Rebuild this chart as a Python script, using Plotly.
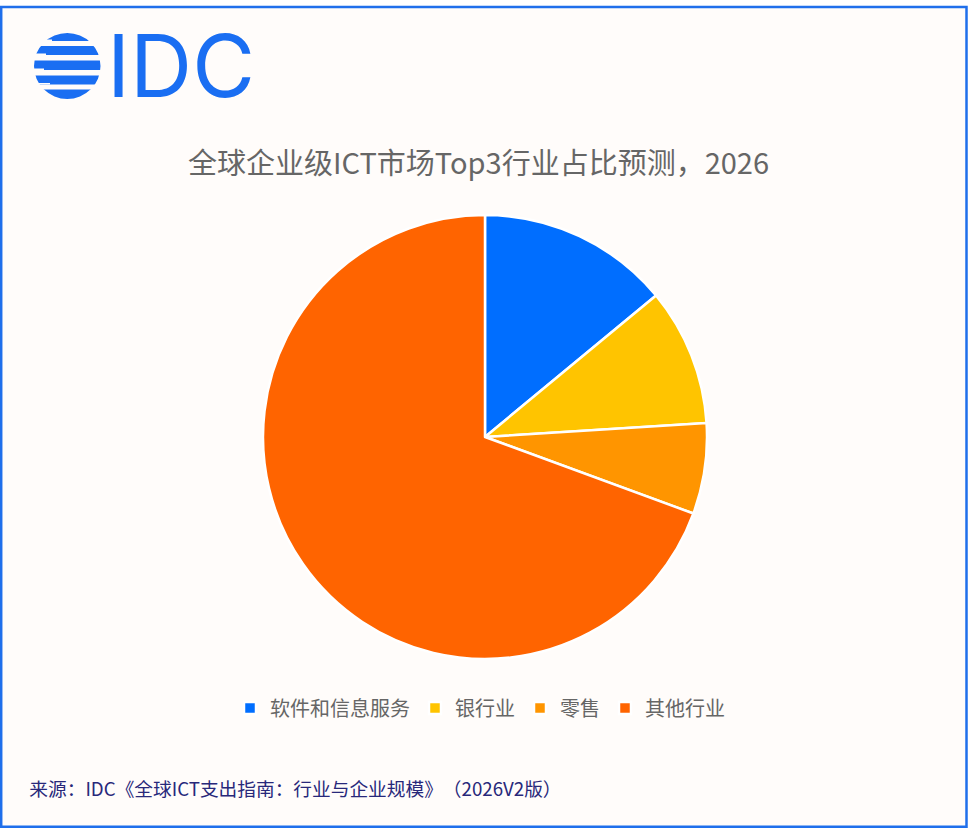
import plotly.graph_objects as go

# 数据
labels = ["软件和信息服务", "银行业", "零售", "其他行业"]
shares = [14.0, 10.0, 6.6, 69.4]
colors = ["#006EFF", "#FFC400", "#FF9500", "#FF6400"]

title_text = "全球企业级ICT市场Top3行业占比预测，2026"
source_text = "来源：IDC《全球ICT支出指南：行业与企业规模》（2026V2版）"

W, H = 968, 828
CJK = "Noto Sans CJK SC"
LOGO_BLUE = "#1A6EF2"
BG = "#FFFCFA"


def px(x):
    return x / W


def py(y):
    return 1 - y / H


fig = go.Figure()
fig.add_trace(go.Pie(
    labels=labels,
    values=shares,
    sort=False,
    direction="clockwise",
    rotation=0,
    marker=dict(colors=colors, line=dict(color="white", width=2.5)),
    textinfo="none",
    hoverinfo="label+percent",
    domain=dict(x=[px(263), px(707)], y=[py(659), py(215)]),
))

shapes = [
    # 外框
    dict(type="rect", xref="paper", yref="paper",
         x0=px(1.2), x1=px(966.5), y0=py(826.8), y1=py(7),
         fillcolor=BG, line=dict(color="#1F6FEB", width=2.5), layer="below"),
    # logo 圆
    dict(type="circle", xref="paper", yref="paper",
         x0=px(34), x1=px(100.5), y0=py(99), y1=py(33),
         fillcolor=LOGO_BLUE, line=dict(width=0), layer="below"),
]
# logo 白色条纹（带小台阶）
for y0, y1, xs in [(41, 46, 52), (55, 60.5, 46), (70, 75.5, 44), (84.5, 89.5, 50)]:
    shapes.append(dict(type="rect", xref="paper", yref="paper",
                       x0=px(30), x1=px(104), y0=py(y1), y1=py(y0),
                       fillcolor=BG, line=dict(width=0), layer="below"))
    shapes.append(dict(type="rect", xref="paper", yref="paper",
                       x0=px(30), x1=px(xs), y0=py(y0 - 1.5), y1=py(y0),
                       fillcolor=BG, line=dict(width=0), layer="below"))

annotations = [
    dict(text="IDC", x=px(105), y=py(66), xref="paper", yref="paper",
         xanchor="left", yanchor="middle", showarrow=False,
         font=dict(family="Inter", size=86, color=LOGO_BLUE)),
    dict(text=title_text, x=px(478.5), y=py(161), xref="paper", yref="paper",
         xanchor="center", yanchor="middle", showarrow=False,
         font=dict(family=CJK, size=29, color="#666666")),
    dict(text=source_text, x=px(32), y=py(787), xref="paper", yref="paper",
         xanchor="left", yanchor="middle", showarrow=False,
         font=dict(family=CJK, size=18.7, color="#28287A")),
]

fig.update_layout(
    width=W, height=H,
    margin=dict(l=0, r=0, t=0, b=0),
    paper_bgcolor="white",
    plot_bgcolor="rgba(0,0,0,0)",
    shapes=shapes,
    annotations=annotations,
    showlegend=True,
    legend=dict(orientation="h", x=px(480), xanchor="center", y=py(708), yanchor="middle",
                font=dict(family=CJK, size=20, color="#666666"),
                bgcolor="rgba(0,0,0,0)", itemclick=False, traceorder="normal"),
)

fig.write_html(
    "out.html",
    config={"displayModeBar": False},
    post_script="document.body.style.margin='0';"
                "document.body.style.setProperty('text-spacing-trim','space-all');",
)
